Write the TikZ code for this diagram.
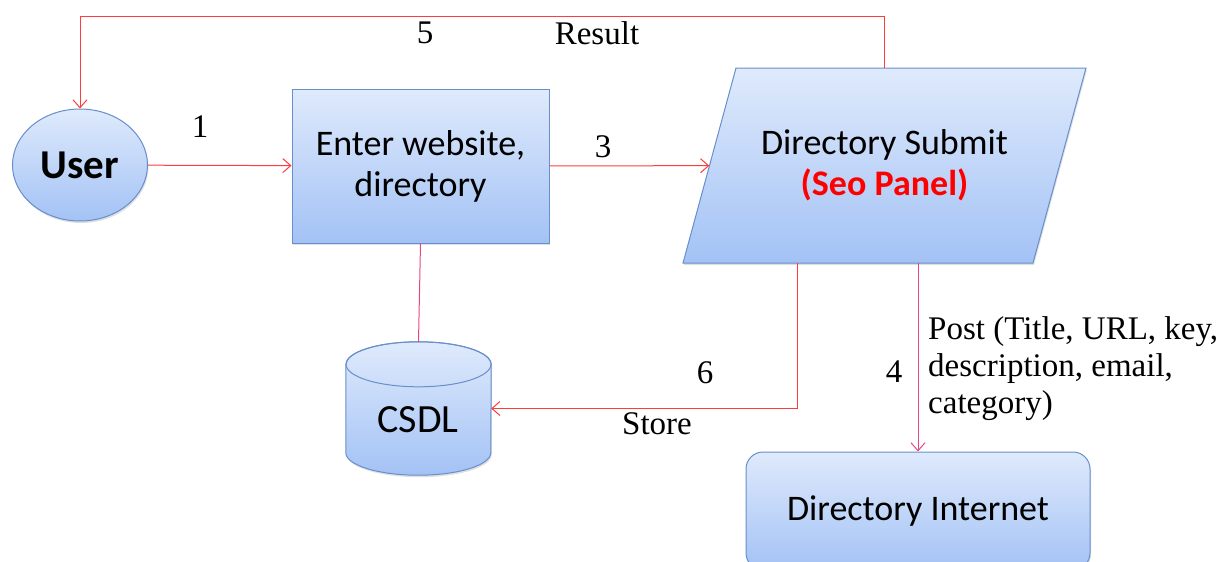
\documentclass[tikz,border=0pt]{standalone}
\usepackage{fontspec}
\setmainfont{Liberation Serif}
\newfontfamily\calfont{Carlito}
\usetikzlibrary{shapes.geometric,arrows.meta,shadows}
\definecolor{boxline}{RGB}{104,143,204}
\definecolor{boxtop}{RGB}{223,234,252}
\definecolor{boxbot}{RGB}{163,194,245}
\definecolor{flowred}{RGB}{255,60,60}
\definecolor{flowpink}{RGB}{232,70,130}
\tikzset{
  boxfill/.style={draw=boxline,line width=1pt,top color=boxtop,bottom color=boxbot,
    drop shadow={shadow xshift=1pt,shadow yshift=-2pt,opacity=.25}},
  box/.style={boxfill,font=\calfont\fontsize{36}{41}\selectfont,align=center},
  flow/.style={draw=flowred,line width=1pt,-{Straight Barb[length=8pt,width=14pt]}},
  tag/.style={font=\fontsize{33}{37}\selectfont,inner sep=0pt}
}
\begin{document}
\begin{tikzpicture}[x=1pt,y=-1pt]
    \useasboundingbox (0,0) rectangle (1227,562);
    % boxes
    \node[box,ellipse,minimum width=135pt,minimum height=112pt,inner sep=0pt] (user) at (80,165) {\fontsize{41}{45}\selectfont\bfseries User};
    \node[box,minimum width=257pt,minimum height=154pt] (enter) at (420.5,166) {Enter website,\\directory};
    \path[boxfill] (683,263) -- (736,68) -- (1086,68) -- (1033,263) -- cycle;
    \node[font=\calfont\fontsize{36}{41}\selectfont,align=center,minimum width=350pt,minimum height=195pt] (submit) at (884.5,165.5) {Directory Submit\\\textcolor{red}{\bfseries(Seo Panel)}};
    \node[box,rounded corners=17pt,minimum width=344pt,minimum height=118pt] (dirnet) at (918,511) {Directory Internet};
    % database
    \node[minimum width=145pt,minimum height=133pt,inner sep=0pt] (csdl) at (418.5,408.5) {};
    \path[boxfill]
      ([yshift=-22.5pt]csdl.north west) -- ([yshift=22.5pt]csdl.south west)
      arc[start angle=180,end angle=360,x radius=72.5pt,y radius=22.5pt]
      -- ([yshift=-22.5pt]csdl.north east)
      arc[start angle=0,end angle=180,x radius=72.5pt,y radius=22.5pt] -- cycle;
    \draw[boxline,line width=1pt] ([yshift=-22.5pt]csdl.north) ellipse[x radius=72.5pt,y radius=22.5pt];
    \node[font=\calfont\fontsize{40}{44}\selectfont] (csdlname) at (418,420) {CSDL};
    % connectors
    \coordinate (ret) at (0,16);
    \draw[flow] (submit.north) -- (submit.north |- ret) -- (user.north |- ret) -- (user.north);
    \draw[flow] (user) -- (enter);
    \draw[flow] (enter) -- (submit);
    \draw[flowpink,line width=1pt] (enter.south) -- (csdl.north);
    \draw[flow] ([xshift=-87.5pt]submit.south) |- (csdl.east);
    \draw[flow,draw=flowpink] (submit.south -| dirnet.north) -- (dirnet.north);
    % labels
    \node[tag] (n5) at (425,33) {5};
    \node[tag] (result) at (597,33) {Result};
    \node[tag] (n1) at (200,127) {1};
    \node[tag] (n3) at (603,147) {3};
    \node[tag] (n6) at (705,373) {6};
    \node[tag] (store) at (657,424) {Store};
    \node[tag] (n4) at (894,372) {4};
    \node[tag,anchor=north west,align=left] (post) at (928,316) {Post (Title, URL, key,\\description, email,\\category)};
\end{tikzpicture}
\end{document}
